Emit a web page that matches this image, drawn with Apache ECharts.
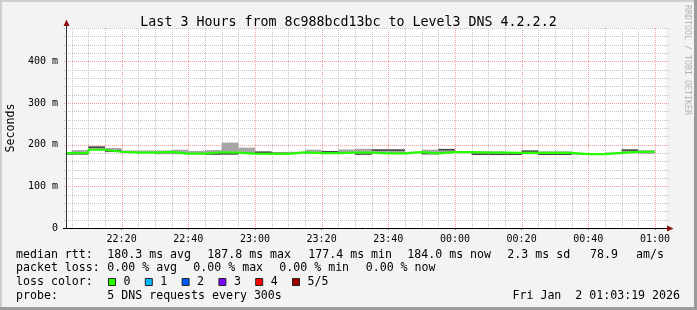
<!DOCTYPE html>
<html><head><meta charset="utf-8">
<script src="https://cdn.jsdelivr.net/npm/echarts@6/dist/echarts.min.js"></script>
<style>html,body{margin:0;padding:0;background:#f3f3f3}#c{width:697px;height:310px}</style>
</head><body><div id="c"></div>
<script>
// ---- data (minutes after 22:00; values in ms) ----
const xMin = 3 + 19/60, xMax = 183 + 19/60;
const binEnd = [5,10,15,20,25,30,35,40,45,50,55,60,65,70,75,80,85,90,95,100,105,110,115,120,125,130,135,140,145,150,155,160,165,170,175,180];
const median = [179.5,180.5,187.8,183.0,181.0,181.0,182.5,178.6,178.5,181.8,180.8,178.5,178.0,178.0,181.5,179.5,179.5,181.0,181.0,179.0,179.0,182.0,179.0,182.3,182.0,181.0,181.0,180.5,180.5,180.5,180.5,177.4,177.4,180.5,182.5,183.0];
const smokeLo = [178,178,187,182,180,180,177,177,177,177.5,177,178,177.5,177.5,180,178,178,179,177.5,178,178,181,178,181,181,177,177,177,177,177,177,177,177,177,181,178];
const smokeHi = [180,187,195,192,186,186,186,188,185,187,205,193,182,179.5,183,188,184,188.5,190,188,188,183,188,188.5,183.5,184,184,181,184.5,184,184,178,178,181,187,186.5];
const smokeDark = [178,178,194,185,null,null,null,null,null,177.5,178,null,182,179.5,null,null,183,null,177.5,187,187,null,178.5,188,null,177,177,177,184.5,177,177,null,null,null,187,null];
const xTickMinutes = [20,40,60,80,100,120,140,160,180];
const xTickLabels = ['22:20','22:40','23:00','23:20','23:40','00:00','00:20','00:40','01:00'];
const yTickValues = [0,100,200,300,400];
const yTickLabels = ['0','100 m','200 m','300 m','400 m'];
const titleText = 'Last 3 Hours from 8c988bcd13bc to Level3 DNS 4.2.2.2';
const rttStats = ['180.3 ms avg','187.8 ms max','177.4 ms min','184.0 ms now','2.3 ms sd','78.9','am/s'];
const lossStats = ['0.00 % avg','0.00 % max','0.00 % min','0.00 % now'];
const lossColors = ['#26ff00','#00b8ff','#0059ff','#7e00ff','#ff0000','#a10000'];
const lossLabels = ['0','1','2','3','4','5/5'];
const probeText = '5 DNS requests every 300s';
const dateText = 'Fri Jan  2 01:03:19 2026';

// ---- build ----
const MONO = 'DejaVu Sans Mono';
const smokeData = binEnd.map((e,i)=>[Math.max(e-5,xMin), e, smokeLo[i], smokeHi[i]]);
const darkData = binEnd.map((e,i)=>[Math.max(e-5,xMin), e, smokeDark[i]==null?NaN:smokeDark[i]]);
const medData = [[xMin, median[0]]].concat(binEnd.map((e,i)=>[e, median[i]]));
const gridData = [];
for (let m=5;m<=180;m+=5) gridData.push([m, 0, 0, m%20===0?1:0]);
for (let v=20;v<=480;v+=20) gridData.push([xMin, v, 1, v%100===0?1:0]);

const chart = echarts.init(document.getElementById('c'), null, {renderer:'canvas'});
const G = {left:66, top:28, width:600, height:200};

const graphics = [];
function txt(x,y,s,opt){ graphics.push(Object.assign({type:'text', x:x, y:y, silent:true,
  style:{text:s, font:'11.6px "'+MONO+'"', fill:'#000', textVerticalAlign:'middle'}}, opt||{})); }
// borders
graphics.push({type:'rect', shape:{x:0,y:0,width:697,height:2}, style:{fill:'#cfcfcf'}, silent:true});
graphics.push({type:'rect', shape:{x:0,y:0,width:2,height:310}, style:{fill:'#cfcfcf'}, silent:true});
graphics.push({type:'rect', shape:{x:694,y:0,width:3,height:310}, style:{fill:'#9b9b9b'}, silent:true});
graphics.push({type:'rect', shape:{x:0,y:307,width:697,height:3}, style:{fill:'#9b9b9b'}, silent:true});
// rrdtool watermark
graphics.push({type:'text', x:687.5, y:5, rotation:-Math.PI/2, silent:true,
  style:{text:'RRDTOOL / TOBI OETIKER', font:'8.3px "'+MONO+'"', fill:'#b4b4b4', textVerticalAlign:'middle'}});
// legend rows
const rows = [254.5, 268.2, 282.3, 296];
txt(16, rows[0], 'median rtt:');
[107.3,207.3,308.3,407.3,507.3,590,636].forEach((x,i)=>txt(x, rows[0], rttStats[i]));
txt(16, rows[1], 'packet loss:');
[107.3,193.3,279.3,365.7].forEach((x,i)=>txt(x, rows[1], lossStats[i]));
txt(16, rows[2], 'loss color:');
lossColors.forEach((c,i)=>{
  const bx = 108.5 + i*36.8;
  graphics.push({type:'rect', shape:{x:bx, y:278.5, width:7, height:7}, style:{fill:c, stroke:'#222', lineWidth:1}, silent:true});
  txt(bx+15, rows[2], lossLabels[i]);
});
txt(16, rows[3], 'probe:');
txt(107.3, rows[3], probeText);
txt(680, rows[3], dateText, {style:{text:dateText, font:'11.6px "'+MONO+'"', fill:'#000', textVerticalAlign:'middle', textAlign:'right'}});
// axis lines & arrows
graphics.push({type:'line', shape:{x1:66.5,y1:228,x2:66.5,y2:23}, style:{stroke:'#333', lineWidth:1}, silent:true, z:10});
graphics.push({type:'line', shape:{x1:63,y1:228.5,x2:668,y2:228.5}, style:{stroke:'#000', lineWidth:1}, silent:true, z:10});
graphics.push({type:'polygon', shape:{points:[[63.5,26],[66.5,19.5],[69.5,26]]}, style:{fill:'#8b1010'}, silent:true, z:10});
graphics.push({type:'polygon', shape:{points:[[667,225.5],[673.5,228.5],[667,231.5]]}, style:{fill:'#8b1010'}, silent:true, z:10});

chart.setOption({
  animation:false,
  backgroundColor:'#f3f3f3',
  title:{text:titleText, left:'center', top:11, textStyle:{fontFamily:MONO, fontSize:13.3, fontWeight:'normal', color:'#000'}},
  grid:{left:G.left, top:G.top, width:G.width, height:G.height, show:true, backgroundColor:'#fff', borderWidth:0,
    containLabel:false, outerBoundsMode:'none'},
  xAxis:{type:'value', min:xMin, max:xMax,
    axisLine:{show:false}, splitLine:{show:false},
    axisTick:{show:true, length:2, lineStyle:{color:'#777'}, customValues:xTickMinutes},
    axisLabel:{customValues:xTickMinutes, margin:6, fontFamily:MONO, fontSize:10, color:'#000',
      formatter:v=>{const i=xTickMinutes.findIndex(t=>Math.abs(t-v)<1e-6); return i<0?'':xTickLabels[i];}}},
  yAxis:{type:'value', min:0, max:480, interval:20,
    name:'Seconds', nameLocation:'middle', nameGap:49, nameRotate:90,
    nameTextStyle:{fontFamily:MONO, fontSize:11.6, color:'#000'},
    axisLine:{show:false}, splitLine:{show:false},
    axisTick:{show:false},
    axisLabel:{margin:8, fontFamily:MONO, fontSize:10, color:'#000',
      formatter:v=>{const i=yTickValues.indexOf(v); return i<0?'':yTickLabels[i];}}},
  series:[
    {type:'custom', name:'grid', z:1, silent:true, data:gridData, encode:{x:0,y:1},
      renderItem:(p,api)=>{
        const cs=p.coordSys, o=api.value(2), major=api.value(3);
        let shape;
        if(o===0){const x=Math.round(api.coord([api.value(0),0])[0])+0.5; shape={x1:x,y1:cs.y,x2:x,y2:cs.y+cs.height};}
        else {const y=Math.round(api.coord([xMin,api.value(1)])[1])+0.5; shape={x1:cs.x-2,y1:y,x2:cs.x+cs.width+3,y2:y};}
        return {type:'line', shape, style:{stroke:major?'#f29a9a':'#c4c4c4', lineWidth:1, lineDash:[1,1]}};
      }},
    {type:'custom', name:'smoke', z:2, silent:true, data:smokeData, encode:{x:[0,1],y:[2,3]},
      renderItem:(p,api)=>{
        const a=api.coord([api.value(0),api.value(3)]), b=api.coord([api.value(1),api.value(2)]);
        return {type:'rect', shape:{x:a[0],y:a[1],width:b[0]-a[0],height:Math.max(1,b[1]-a[1])}, style:{fill:'#a6a6a6'}};
      }},
    {type:'custom', name:'dark', z:3, silent:true, data:darkData, encode:{x:[0,1],y:2},
      renderItem:(p,api)=>{
        const v=api.value(2); if(isNaN(v)) return null;
        const a=api.coord([api.value(0),v]), b=api.coord([api.value(1),v]);
        return {type:'line', shape:{x1:a[0],y1:a[1],x2:b[0],y2:b[1]}, style:{stroke:'#4a4a4a', lineWidth:1.6}};
      }},
    {type:'line', name:'median', z:4, step:'start', data:medData, showSymbol:false, symbol:'none',
      lineStyle:{color:'#26ff00', width:2.2}, silent:true}
  ],
  graphic:graphics
});
</script></body></html>
